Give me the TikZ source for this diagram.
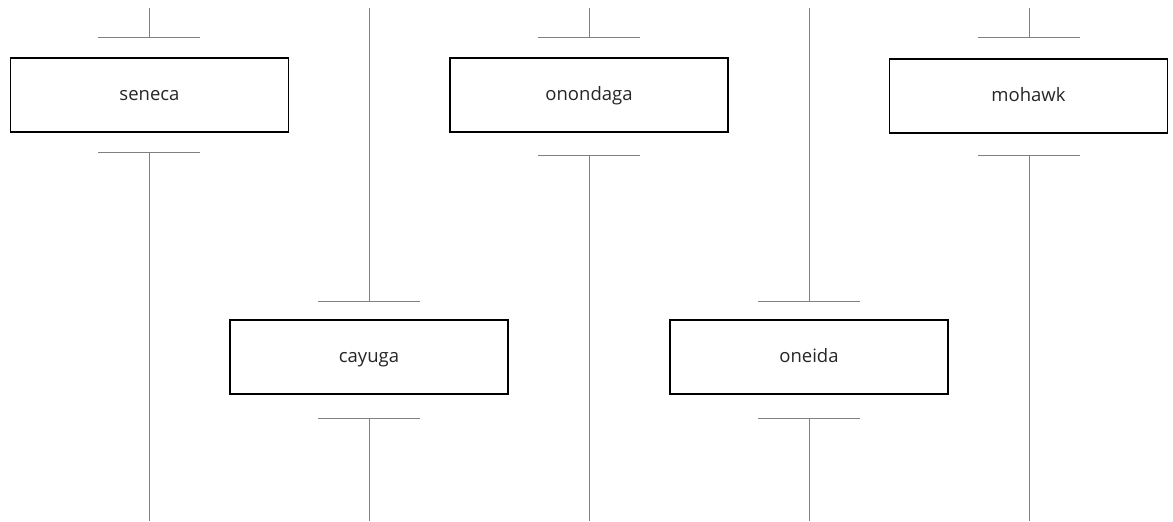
\documentclass[tikz,border=0pt]{standalone}
\usepackage{fontspec}
\setmainfont{Open Sans}
\begin{document}
\begin{tikzpicture}[x=1pt,y=-1pt,
  nation/.style={draw=black,line width=1.6pt,fill=white,minimum width=278pt,minimum height=74pt,inner sep=0pt,
    text height=10pt,text depth=0pt,font=\fontsize{18.5}{22}\selectfont,text=black!85},
  wire/.style={draw=black!50,line width=1pt},
  bar/.style={draw=black!50,line width=1pt}]
\useasboundingbox (0,0) rectangle (1173,522);

% upper row
\node[nation] (seneca)   at (149.5,95) {seneca};
\node[nation] (onondaga) at (589,95)   {onondaga};
\node[nation] (mohawk)   at (1028.5,96) {mohawk};
% lower row
\node[nation] (cayuga)   at (369,357)  {cayuga};
\node[nation] (oneida)   at (809,357)  {oneida};

% terminals: top end, upper bar, lower bar, bottom end
\foreach \n/\x/\t/\u in {sen/149/37/152, ono/589/37/155, moh/1029/37/155, cay/369/301/418, one/809/301/418}{
  \coordinate (\n-top) at (\x,8);
  \coordinate (\n-in)  at (\x,\t);
  \coordinate (\n-out) at (\x,\u);
  \coordinate (\n-end) at (\x,521);
  \draw[wire] (\n-top) -- (\n-in);
  \draw[bar] ([xshift=-51pt]\n-in) -- ([xshift=51pt]\n-in);
  \draw[bar] ([xshift=-51pt]\n-out) -- ([xshift=51pt]\n-out);
  \draw[wire] (\n-out) -- (\n-end);
}
\end{tikzpicture}
\end{document}
